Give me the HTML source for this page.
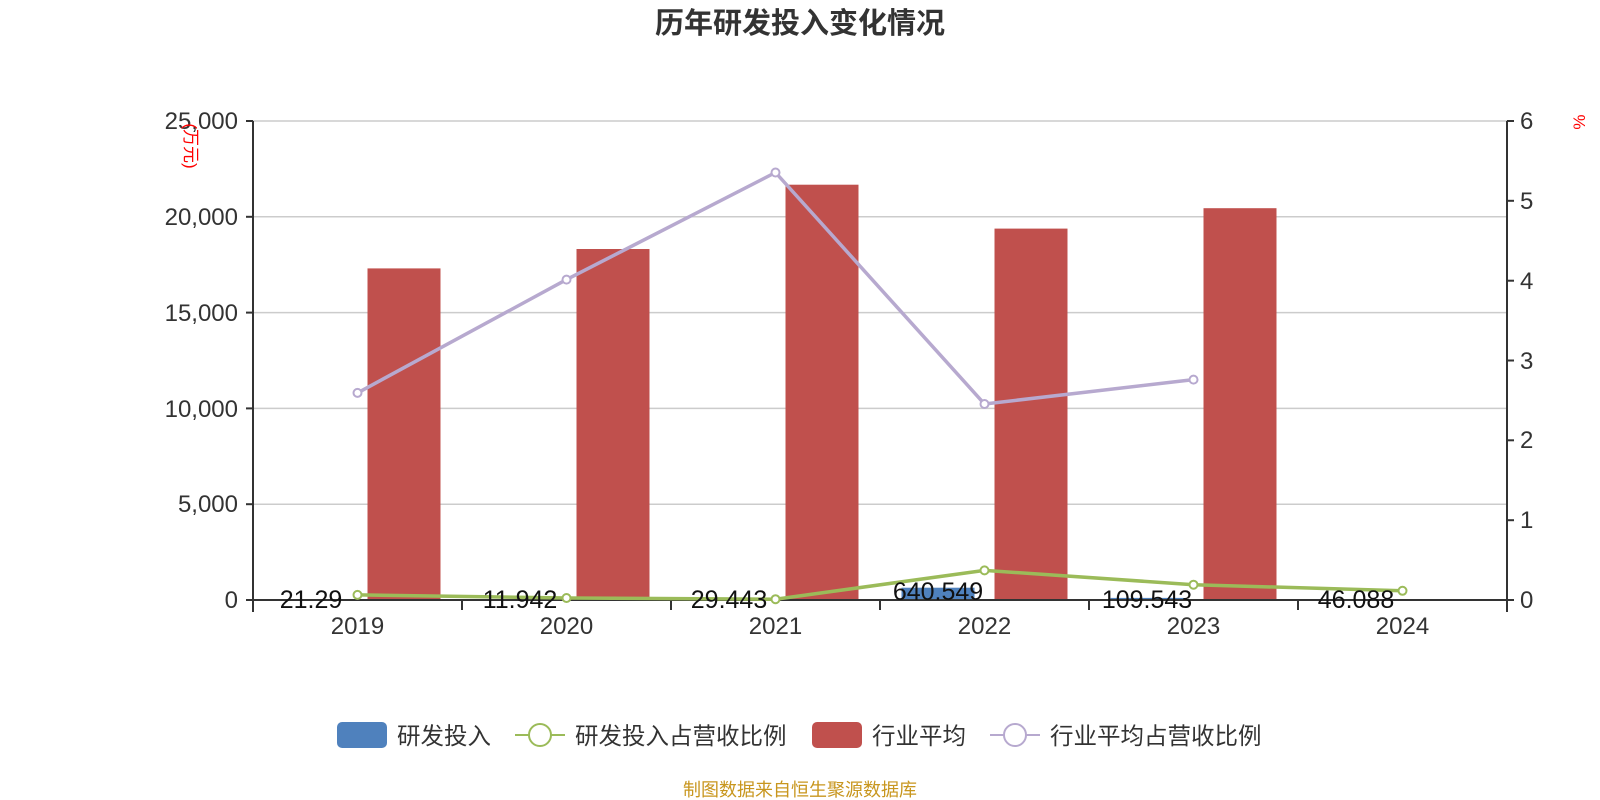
<!DOCTYPE html>
<html><head><meta charset="utf-8"><style>body{margin:0;background:#fff}svg{display:block}text{font-family:"Liberation Sans","Noto Sans CJK SC",sans-serif}</style></head>
<body>
<svg width="1600" height="800" viewBox="0 0 1600 800" xmlns="http://www.w3.org/2000/svg">
<text x="800" y="33" text-anchor="middle" font-size="29" font-weight="bold" fill="#333">历年研发投入变化情况</text>
<g stroke="#ccc" stroke-width="1.5">
<line x1="253" y1="121" x2="1507" y2="121"/><line x1="253" y1="216.8" x2="1507" y2="216.8"/><line x1="253" y1="312.6" x2="1507" y2="312.6"/><line x1="253" y1="408.4" x2="1507" y2="408.4"/><line x1="253" y1="504.2" x2="1507" y2="504.2"/>
</g>
<g fill="#c0504d">
<rect x="367.5" y="268.4" width="73" height="331.6"/>
<rect x="576.5" y="249" width="73" height="351"/>
<rect x="785.5" y="184.7" width="73" height="415.3"/>
<rect x="994.5" y="228.6" width="73" height="371.4"/>
<rect x="1203.5" y="208.2" width="73" height="391.8"/>
</g>
<g fill="#4f81bd">
<rect x="901.5" y="587.7" width="73" height="12.3"/>
<rect x="1110.5" y="597.9" width="73" height="2.1"/>
<rect x="1319.5" y="599" width="73" height="1"/>
</g>
<g stroke="#333" stroke-width="2" fill="none">
<line x1="253" y1="121" x2="253" y2="612"/><line x1="1507" y1="121" x2="1507" y2="612"/><line x1="246" y1="600" x2="1514" y2="600"/>
<line x1="246" y1="121" x2="253" y2="121"/><line x1="246" y1="216.8" x2="253" y2="216.8"/><line x1="246" y1="312.6" x2="253" y2="312.6"/><line x1="246" y1="408.4" x2="253" y2="408.4"/><line x1="246" y1="504.2" x2="253" y2="504.2"/>
<line x1="1507" y1="121" x2="1514" y2="121"/><line x1="1507" y1="200.8" x2="1514" y2="200.8"/><line x1="1507" y1="280.7" x2="1514" y2="280.7"/><line x1="1507" y1="360.5" x2="1514" y2="360.5"/><line x1="1507" y1="440.3" x2="1514" y2="440.3"/><line x1="1507" y1="520.2" x2="1514" y2="520.2"/>
<line x1="462" y1="600" x2="462" y2="610"/><line x1="671" y1="600" x2="671" y2="610"/><line x1="880" y1="600" x2="880" y2="610"/><line x1="1089" y1="600" x2="1089" y2="610"/><line x1="1298" y1="600" x2="1298" y2="610"/>
</g>
<g font-size="24" fill="#333" text-anchor="end">
<text x="238" y="129">25,000</text><text x="238" y="225">20,000</text><text x="238" y="321">15,000</text><text x="238" y="417">10,000</text><text x="238" y="512">5,000</text><text x="238" y="608">0</text>
</g>
<g font-size="24" fill="#333">
<text x="1520" y="129">6</text><text x="1520" y="209">5</text><text x="1520" y="289">4</text><text x="1520" y="369">3</text><text x="1520" y="448">2</text><text x="1520" y="528">1</text><text x="1520" y="608">0</text>
</g>
<g font-size="24" fill="#333" text-anchor="middle">
<text x="357.5" y="634">2019</text><text x="566.5" y="634">2020</text><text x="775.5" y="634">2021</text><text x="984.5" y="634">2022</text><text x="1193.5" y="634">2023</text><text x="1402.5" y="634">2024</text>
</g>
<text transform="translate(185,146) rotate(90)" font-size="17" fill="red" text-anchor="middle">(万元)</text>
<text transform="translate(1585,122) rotate(-90)" font-size="17" fill="red" text-anchor="middle">%</text>
<polyline points="357.5,392.9 566.5,279.6 775.5,172.5 984.5,404 1193.5,379.6" fill="none" stroke="#b7a9cf" stroke-width="3.5"/>
<g fill="#fff" stroke="#b7a9cf" stroke-width="2"><circle cx="357.5" cy="392.9" r="4"/><circle cx="566.5" cy="279.6" r="4"/><circle cx="775.5" cy="172.5" r="4"/><circle cx="984.5" cy="404" r="4"/><circle cx="1193.5" cy="379.6" r="4"/></g>
<polyline points="357.5,594.9 566.5,598 775.5,599.2 984.5,570.4 1193.5,584.7 1402.5,590.8" fill="none" stroke="#9bbb59" stroke-width="3.5"/>
<g fill="#fff" stroke="#9bbb59" stroke-width="2"><circle cx="357.5" cy="594.9" r="4"/><circle cx="566.5" cy="598" r="4"/><circle cx="775.5" cy="599.2" r="4"/><circle cx="984.5" cy="570.4" r="4"/><circle cx="1193.5" cy="584.7" r="4"/><circle cx="1402.5" cy="590.8" r="4"/></g>
<g font-size="25" fill="#111" text-anchor="middle">
<text x="311" y="608">21.29</text><text x="520" y="608">11.942</text><text x="729" y="608">29.443</text><text x="938" y="600">640.549</text><text x="1147" y="608">109.543</text><text x="1356" y="608">46.088</text>
</g>
<rect x="337" y="722" width="50" height="26" rx="5" fill="#4f81bd"/>
<text x="397" y="744" font-size="23.5" fill="#333">研发投入</text>
<line x1="515" y1="735" x2="565" y2="735" stroke="#9bbb59" stroke-width="2"/><circle cx="540" cy="735" r="11" fill="#fff" stroke="#9bbb59" stroke-width="2"/>
<text x="575" y="744" font-size="23.5" fill="#333">研发投入占营收比例</text>
<rect x="812" y="722" width="50" height="26" rx="5" fill="#c0504d"/>
<text x="872" y="744" font-size="23.5" fill="#333">行业平均</text>
<line x1="990" y1="735" x2="1040" y2="735" stroke="#b7a9cf" stroke-width="2"/><circle cx="1015" cy="735" r="11" fill="#fff" stroke="#b7a9cf" stroke-width="2"/>
<text x="1050" y="744" font-size="23.5" fill="#333">行业平均占营收比例</text>
<text x="800" y="796" font-size="18" fill="#c8961e" text-anchor="middle">制图数据来自恒生聚源数据库</text>
</svg>
</body></html>
